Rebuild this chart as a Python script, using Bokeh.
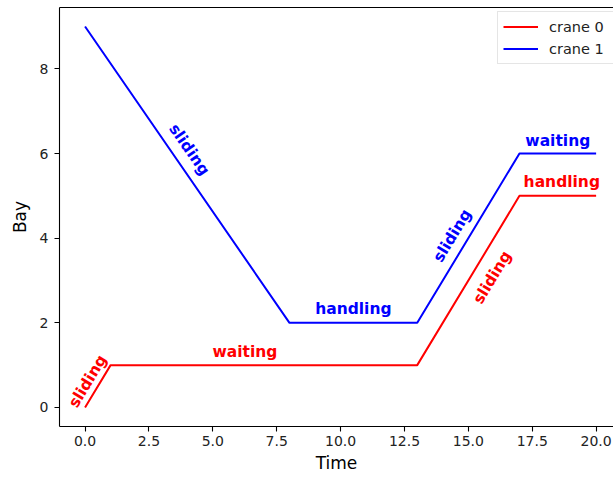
import math
from bokeh.plotting import figure
from bokeh.models import (Range1d, FixedTicker, PrintfTickFormatter, LinearAxis,
                          Legend, LegendItem, ColumnDataSource)
from bokeh.core.properties import value
from bokeh.embed import file_html
from bokeh.resources import INLINE

# ---- data ----
crane0_time = [0, 1, 13, 17, 20]
crane0_bay = [0, 1, 1, 5, 5]
crane0_phase = ["sliding", "waiting", "sliding", "handling"]

crane1_time = [0, 8, 13, 17, 20]
crane1_bay = [9, 2, 2, 6, 6]
crane1_phase = ["sliding", "handling", "sliding", "waiting"]

x_ticks = [0, 2.5, 5, 7.5, 10, 12.5, 15, 17.5, 20]
y_ticks = [0, 2, 4, 6, 8]

# ---- layout ----
W, H = 613, 477
BL, BR, BT, BB = 59, 0, 7, 51
X0, X1 = -1.0, 20.68
Y0, Y1 = -0.45, 9.45
frame_w = W - BL - BR
frame_h = H - BT - BB
px_x = frame_w / (X1 - X0)
px_y = frame_h / (Y1 - Y0)

FONT = "DejaVu Sans"

p = figure(width=W, height=H, output_backend="svg", toolbar_location=None,
           x_range=Range1d(X0, X1), y_range=Range1d(Y0, Y1),
           min_border_left=BL, min_border_right=BR, min_border_top=BT,
           min_border_bottom=BB)
p.outline_line_color = None
p.grid.visible = False
p.background_fill_color = "white"
p.border_fill_color = "white"

for ax in (p.xaxis[0], p.yaxis[0]):
    ax.axis_line_color = "black"
    ax.axis_line_width = 1.1
    ax.major_tick_line_color = "black"
    ax.major_tick_line_width = 1.1
    ax.major_tick_out = 5
    ax.major_tick_in = 0
    ax.minor_tick_line_color = None
    ax.major_label_text_font = FONT
    ax.major_label_text_font_size = "14px"
    ax.major_label_text_color = "#222222"
    ax.axis_label_text_font = FONT
    ax.axis_label_text_font_size = "17px"
    ax.axis_label_text_font_style = "normal"
    ax.axis_label_text_color = "black"

p.xaxis[0].ticker = FixedTicker(ticks=x_ticks)
p.xaxis[0].formatter = PrintfTickFormatter(format="%.1f")
p.xaxis[0].major_label_standoff = 4
p.xaxis[0].axis_label = "Time"
p.xaxis[0].axis_label_standoff = 4

p.yaxis[0].ticker = FixedTicker(ticks=y_ticks)
p.yaxis[0].major_label_standoff = 6
p.yaxis[0].axis_label = "Bay"
p.yaxis[0].axis_label_standoff = 7

top = LinearAxis(ticker=FixedTicker(ticks=[]), axis_line_color="black",
                 axis_line_width=1.1, major_tick_out=0, major_tick_in=0,
                 minor_tick_out=0, minor_tick_in=0, major_label_standoff=0,
                 major_label_text_font_size="0px")
p.add_layout(top, "above")

r0 = p.line(crane0_time, crane0_bay, line_color="red", line_width=2)
r1 = p.line(crane1_time, crane1_bay, line_color="blue", line_width=2)

# label offsets from segment midpoints, screen pixels (dx right, dy down)
offsets0 = [(-10, -5), (-19, -13), (24, -3), (4, -14)]
offsets1 = [(2, -25), (0, -13.5), (-16, -2.5), (0, -12.5)]


def labels(ts, bs, phases, offs, color):
    xs, ys, txt, ang = [], [], [], []
    for i, ph in enumerate(phases):
        mt = (ts[i] + ts[i + 1]) / 2
        mb = (bs[i] + bs[i + 1]) / 2
        dx, dy = offs[i]
        xs.append(mt + dx / px_x)
        ys.append(mb - dy / px_y)
        a = math.atan2((bs[i + 1] - bs[i]) * px_y, (ts[i + 1] - ts[i]) * px_x)
        ang.append(a)
        txt.append(ph)
    src = ColumnDataSource(dict(x=xs, y=ys, text=txt, angle=ang))
    p.text(x="x", y="y", text="text", angle="angle", source=src,
           text_color=color, text_font=value(FONT), text_font_style="bold",
           text_font_size="15.5px", text_align="center", text_baseline="middle")


labels(crane0_time, crane0_bay, crane0_phase, offsets0, "red")
labels(crane1_time, crane1_bay, crane1_phase, offsets1, "blue")

leg_left, leg_top, leg_h = 497, 13, 51
legend = Legend(items=[LegendItem(label="crane 0", renderers=[r0]),
                       LegendItem(label="crane 1", renderers=[r1])],
                location=(leg_left - BL, (BT + frame_h) - (leg_top + leg_h)),
                margin=0, padding=5, spacing=3,
                glyph_width=35, glyph_height=19, label_height=19, label_width=70,
                label_standoff=11,
                label_text_font=FONT, label_text_font_size="14.5px",
                label_text_color="#222222",
                border_line_color="#cccccc", border_line_width=1,
                background_fill_color="white", background_fill_alpha=0.8)
p.add_layout(legend, "center")

open("out.html", "w").write(file_html(p, INLINE))
